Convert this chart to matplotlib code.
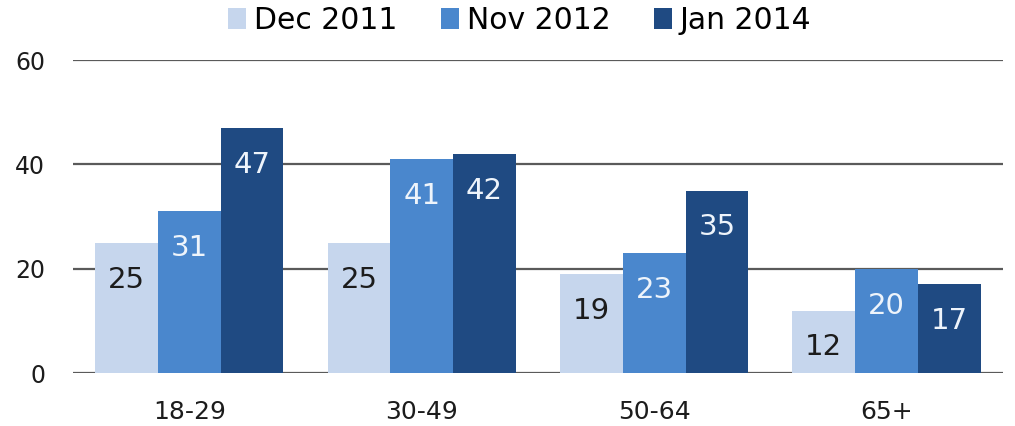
import numpy as np
import matplotlib.pyplot as plt

plt.rcParams['font.family'] = ['DejaVu Sans']

groups = ['18-29', '30-49', '50-64', '65+']
series = ['Dec 2011', 'Nov 2012', 'Jan 2014']
dec_2011 = [25, 25, 19, 12]
nov_2012 = [31, 41, 23, 20]
jan_2014 = [47, 42, 35, 17]
yticks = [0, 20, 40, 60]

colors = ['#c6d6ed', '#4a87cd', '#1f4a82']
text_colors = ['#1c1c1c', '#eef4fb', '#eef4fb']

fig = plt.figure(figsize=(10.15, 4.26), dpi=100)
ax = fig.add_axes([0.072, 0.124, 0.916, 0.735])

x = np.arange(len(groups))
w = 0.27
for i, (name, vals) in enumerate(zip(series, [dec_2011, nov_2012, jan_2014])):
    pos = x + (i - 1) * w
    bars = ax.bar(pos, vals, w, color=colors[i], label=name, zorder=3)
    for b, v in zip(bars, vals):
        ax.annotate(str(v), (b.get_x() + b.get_width() / 2, v),
                    xytext=(0, -26.5), textcoords='offset points',
                    ha='center', va='center', fontsize=21,
                    color=text_colors[i], zorder=4)

ax.set_xlim(-0.5, len(groups) - 0.5)
ax.set_ylim(0, 60)
ax.set_yticks(yticks)
ax.set_xticks(x)
ax.set_xticklabels(groups)
ax.yaxis.grid(True, color='#5a5a5a', linewidth=1.6, zorder=0)
ax.set_axisbelow(True)
for s in ax.spines.values():
    s.set_visible(False)
ax.tick_params(length=0, colors='#1c1c1c')
ax.tick_params(axis='y', labelsize=17, pad=20)
ax.tick_params(axis='x', labelsize=18, pad=19)

fig.legend(loc='center', bbox_to_anchor=(0.512, 0.953), ncol=3, frameon=False,
           fontsize=21.5, handlelength=0.6, handleheight=0.7, handletextpad=0.27,
           columnspacing=1.45, borderpad=0)

fig.savefig('out.png', dpi=100)
